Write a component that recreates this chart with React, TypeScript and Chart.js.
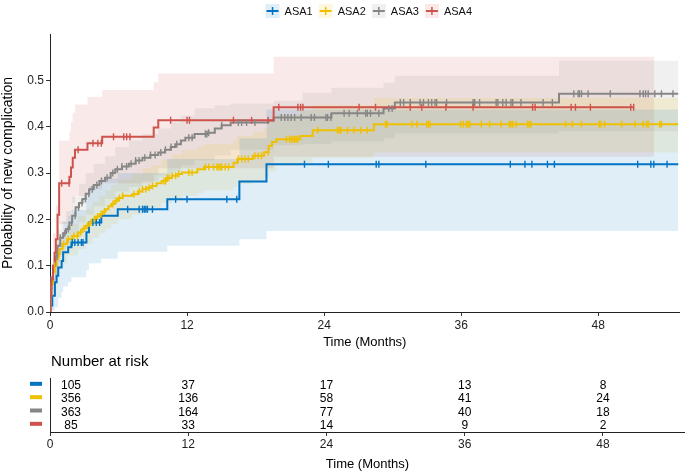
import React, { useEffect, useRef } from "react";
import { Chart, registerables } from "chart.js";

Chart.register(...registerables);

const FONT = "'Liberation Sans', Arial, Helvetica, sans-serif";

const GROUP_NAMES = ["ASA1", "ASA2", "ASA3", "ASA4"];
const GROUP_COLORS = ["#0073C2", "#EFC000", "#868686", "#CD534C"];
const BAND_ALPHA = 0.12;

const X_TICKS = [0, 12, 24, 36, 48];
const Y_TICKS = [0, 0.1, 0.2, 0.3, 0.4, 0.5];
const X_MAX = 55.12;
const Y_MAX = 0.6;

// ---- ASA1 ----
const ASA1_TIME = [0, 0.05, 0.2, 0.43, 0.58, 0.72, 1.02, 1.15, 1.59, 1.88, 3.19, 3.41, 4.49, 5.93, 10.27, 16.58, 18.95, 55.0];
const ASA1_EST = [0, 0.014, 0.035, 0.064, 0.078, 0.096, 0.11, 0.129, 0.14, 0.15, 0.172, 0.193, 0.208, 0.222, 0.2435, 0.2816, 0.319, 0.319];
const ASA1_BAND_TIME = [0, 0.05, 0.2, 0.43, 0.72, 1.02, 1.15, 1.59, 1.88, 3.19, 3.41, 4.49, 5.93, 10.27, 16.58, 18.95, 55.0];
const ASA1_LOWER = [0, 0, 0.003, 0.01, 0.03, 0.043, 0.055, 0.065, 0.075, 0.09, 0.105, 0.115, 0.13, 0.143, 0.157, 0.175, 0.175];
const ASA1_UPPER = [0, 0.04, 0.075, 0.12, 0.15, 0.172, 0.195, 0.208, 0.22, 0.248, 0.272, 0.288, 0.3, 0.33, 0.375, 0.437, 0.437];
const ASA1_CENSOR = [1.95, 2.17, 2.46, 2.75, 2.89, 3.76, 4.05, 4.34, 6.8, 7.81, 8.1, 8.25, 8.39, 8.53, 8.97, 11.0, 12.0, 15.48, 16.35, 22.28, 24.37, 28.56, 28.79, 32.9, 40.3, 41.58, 42.19, 43.55, 44.16, 51.45, 52.6, 52.86, 54.02];

// ---- ASA2 ----
const ASA2_TIME = [0, 0.03, 0.12, 0.26, 0.41, 0.56, 0.71, 0.85, 1.1, 1.5, 1.94, 2.49, 2.84, 3.13, 3.43, 3.73, 4.03, 4.32, 4.62, 4.87, 5.12, 5.36, 5.66, 5.96, 6.35, 7.2, 7.69, 8.09, 8.48, 8.88, 9.33, 9.77, 10.22, 10.67, 11.16, 11.56, 12.9, 13.49, 16.07, 16.41, 17.75, 18.74, 19.14, 19.44, 19.83, 21.91, 23.0, 28.35, 55.0];
const ASA2_EST = [0, 0.035, 0.06, 0.086, 0.1, 0.114, 0.125, 0.136, 0.147, 0.157, 0.164, 0.172, 0.18, 0.186, 0.193, 0.2, 0.206, 0.211, 0.217, 0.222, 0.228, 0.233, 0.24, 0.246, 0.251, 0.254, 0.26, 0.265, 0.268, 0.272, 0.278, 0.283, 0.289, 0.294, 0.298, 0.301, 0.308, 0.313, 0.322, 0.33, 0.337, 0.345, 0.359, 0.367, 0.373, 0.38, 0.392, 0.405, 0.405];
const ASA2_BAND_TIME = [0, 0.03, 0.26, 0.56, 0.85, 1.5, 2.49, 3.13, 3.73, 4.32, 4.87, 5.36, 5.96, 7.2, 8.09, 8.88, 9.77, 10.67, 11.56, 12.9, 13.49, 16.07, 16.41, 17.75, 18.74, 19.14, 19.83, 21.91, 23.0, 28.35, 55.0];
const ASA2_LOWER = [0, 0.015, 0.058, 0.083, 0.104, 0.122, 0.136, 0.148, 0.16, 0.17, 0.18, 0.19, 0.2, 0.21, 0.218, 0.225, 0.235, 0.245, 0.251, 0.257, 0.262, 0.27, 0.276, 0.283, 0.29, 0.303, 0.316, 0.322, 0.333, 0.344, 0.344];
const ASA2_UPPER = [0, 0.055, 0.117, 0.145, 0.168, 0.19, 0.207, 0.222, 0.238, 0.25, 0.262, 0.274, 0.286, 0.297, 0.31, 0.317, 0.329, 0.34, 0.35, 0.357, 0.362, 0.372, 0.38, 0.389, 0.397, 0.412, 0.426, 0.434, 0.447, 0.462, 0.462];
const ASA2_CENSOR = [0.41, 0.8, 1.2, 1.6, 2.09, 2.39, 2.69, 2.98, 3.28, 3.58, 3.88, 4.17, 4.47, 4.77, 5.5, 5.79, 6.08, 6.36, 7.35, 7.81, 8.1, 8.39, 8.68, 8.97, 9.98, 10.13, 10.27, 10.42, 10.7, 11.0, 11.28, 12.15, 12.44, 13.6, 13.89, 14.32, 14.61, 14.76, 14.9, 15.04, 15.34, 15.63, 16.49, 16.78, 17.07, 17.36, 17.94, 18.23, 18.52, 19.1, 20.69, 20.98, 21.12, 21.27, 21.42, 21.55, 21.7, 23.44, 25.17, 25.32, 25.46, 26.04, 26.62, 27.2, 27.78, 29.37, 29.51, 31.68, 32.12, 32.99, 33.13, 33.27, 35.94, 36.17, 36.46, 36.6, 36.75, 37.76, 38.48, 39.5, 40.22, 40.36, 40.51, 40.8, 41.81, 41.95, 42.1, 45.14, 45.72, 46.53, 48.09, 48.24, 48.55, 50.06, 51.22, 51.94, 52.23, 52.37, 53.38, 53.53];

// ---- ASA3 ----
const ASA3_TIME = [0, 0.03, 0.12, 0.26, 0.46, 0.66, 0.9, 1.15, 1.4, 1.7, 1.94, 2.24, 2.54, 2.84, 3.13, 3.43, 3.83, 4.32, 4.82, 5.31, 5.71, 6.3, 6.9, 7.49, 8.09, 8.78, 9.48, 10.07, 10.57, 10.96, 11.46, 11.85, 12.65, 13.84, 14.43, 15.02, 15.82, 19.09, 19.58, 24.64, 29.2, 30.19, 44.56, 55.0];
const ASA3_EST = [0, 0.05, 0.075, 0.1, 0.12, 0.143, 0.16, 0.17, 0.179, 0.193, 0.208, 0.226, 0.235, 0.244, 0.255, 0.265, 0.274, 0.283, 0.29, 0.3, 0.308, 0.314, 0.32, 0.327, 0.333, 0.339, 0.344, 0.35, 0.356, 0.362, 0.37, 0.376, 0.384, 0.387, 0.396, 0.403, 0.409, 0.413, 0.42, 0.429, 0.439, 0.452, 0.471, 0.471];
const ASA3_BAND_TIME = [0, 0.03, 0.26, 0.66, 0.9, 1.4, 1.94, 2.54, 3.13, 3.83, 4.82, 5.71, 6.9, 8.09, 9.48, 10.57, 11.46, 12.65, 14.43, 15.82, 19.58, 22.11, 24.64, 29.2, 30.19, 44.56, 55.0];
const ASA3_LOWER = [0, 0.03, 0.07, 0.108, 0.124, 0.14, 0.167, 0.193, 0.21, 0.228, 0.244, 0.26, 0.27, 0.282, 0.292, 0.303, 0.316, 0.327, 0.338, 0.35, 0.36, 0.362, 0.368, 0.375, 0.385, 0.39, 0.39];
const ASA3_UPPER = [0, 0.07, 0.13, 0.178, 0.196, 0.218, 0.249, 0.277, 0.3, 0.32, 0.336, 0.356, 0.37, 0.384, 0.396, 0.409, 0.424, 0.44, 0.446, 0.45, 0.456, 0.473, 0.484, 0.495, 0.51, 0.542, 0.542];
const ASA3_CENSOR = [0.6, 0.9, 1.3, 1.6, 1.9, 2.2, 2.5, 2.8, 3.1, 3.4, 3.7, 4.1, 4.5, 5.0, 5.5, 5.9, 6.3, 6.7, 7.1, 7.5, 7.8, 8.3, 8.8, 9.2, 9.7, 10.1, 10.6, 11.1, 12.15, 12.44, 13.6, 13.74, 13.89, 15.04, 16.49, 16.78, 17.21, 17.94, 20.25, 20.55, 20.83, 21.12, 21.42, 21.99, 22.86, 23.15, 24.16, 24.3, 24.59, 25.75, 26.19, 26.91, 27.63, 27.78, 28.06, 28.79, 29.66, 29.95, 30.67, 30.96, 31.54, 32.4, 32.7, 33.13, 33.42, 33.71, 33.85, 34.72, 37.04, 37.18, 37.61, 39.06, 39.21, 39.64, 39.93, 40.36, 40.51, 41.23, 43.17, 43.98, 45.86, 46.24, 46.35, 46.53, 47.11, 49.05, 51.65, 51.94, 52.14, 52.37, 52.95, 53.53, 54.54];

// ---- ASA4 ----
const ASA4_TIME = [0, 0.03, 0.12, 0.26, 0.41, 0.51, 0.66, 0.8, 1.7, 1.84, 1.99, 2.19, 3.28, 4.57, 9.08, 9.48, 19.58, 51.1];
const ASA4_EST = [0, 0.035, 0.07, 0.1, 0.128, 0.157, 0.21, 0.278, 0.292, 0.312, 0.333, 0.35, 0.364, 0.378, 0.398, 0.414, 0.442, 0.442];
const ASA4_BAND_TIME = [0, 0.03, 0.26, 0.51, 0.8, 1.7, 1.84, 1.99, 2.19, 3.28, 4.57, 9.08, 9.48, 19.58, 52.9];
const ASA4_LOWER = [0, 0.005, 0.04, 0.08, 0.19, 0.2, 0.218, 0.235, 0.25, 0.265, 0.278, 0.296, 0.31, 0.335, 0.335];
const ASA4_UPPER = [0, 0.08, 0.17, 0.23, 0.37, 0.39, 0.41, 0.43, 0.448, 0.464, 0.479, 0.496, 0.515, 0.551, 0.551];
const ASA4_CENSOR = [1.02, 1.67, 2.46, 3.76, 4.19, 4.49, 5.56, 6.45, 6.71, 7.0, 10.56, 12.0, 12.21, 16.06, 17.65, 19.1, 20.03, 21.7, 21.94, 22.14, 27.06, 28.5, 31.54, 32.55, 34.66, 37.04, 42.25, 42.47, 45.63, 46.0, 47.31, 50.84, 51.1];

// ---- Risk table ----
const RISK_TIMES = [0, 12, 24, 36, 48];
const RISK_ASA1 = [105, 37, 17, 13, 8];
const RISK_ASA2 = [356, 136, 58, 41, 24];
const RISK_ASA3 = [363, 164, 77, 40, 18];
const RISK_ASA4 = [85, 33, 14, 9, 2];
const RISK_ROW_POS = [4, 3, 2, 1];

const GROUPS = [
  { time: ASA1_TIME, est: ASA1_EST, bandTime: ASA1_BAND_TIME, lower: ASA1_LOWER, upper: ASA1_UPPER, censor: ASA1_CENSOR, risk: RISK_ASA1 },
  { time: ASA2_TIME, est: ASA2_EST, bandTime: ASA2_BAND_TIME, lower: ASA2_LOWER, upper: ASA2_UPPER, censor: ASA2_CENSOR, risk: RISK_ASA2 },
  { time: ASA3_TIME, est: ASA3_EST, bandTime: ASA3_BAND_TIME, lower: ASA3_LOWER, upper: ASA3_UPPER, censor: ASA3_CENSOR, risk: RISK_ASA3 },
  { time: ASA4_TIME, est: ASA4_EST, bandTime: ASA4_BAND_TIME, lower: ASA4_LOWER, upper: ASA4_UPPER, censor: ASA4_CENSOR, risk: RISK_ASA4 },
];

function rgba(hex: string, a: number) {
  const n = parseInt(hex.slice(1), 16);
  return `rgba(${(n >> 16) & 255},${(n >> 8) & 255},${n & 255},${a})`;
}

function pts(xs: number[], ys: number[]) {
  const n = Math.min(xs.length, ys.length);
  const out: { x: number; y: number }[] = [];
  for (let i = 0; i < n; i++) out.push({ x: xs[i], y: ys[i] });
  return out;
}

function stepValue(times: number[], est: number[], t: number) {
  let v = est[0];
  for (let i = 0; i < times.length; i++) if (times[i] <= t) v = est[i];
  return v;
}

const legendPlugin = {
  id: "kmLegend",
  afterDraw(chart: any) {
    const { ctx, chartArea } = chart;
    ctx.save();
    ctx.font = `11px ${FONT}`;
    const box = 14;
    const gapText = 5;
    const gapItem = 6;
    const widths = GROUP_NAMES.map((n) => ctx.measureText(n).width);
    let total = 0;
    widths.forEach((w) => (total += box + gapText + w));
    total += gapItem * (GROUP_NAMES.length - 1);
    let x = (chartArea.left + chartArea.right) / 2 + 4 - total / 2;
    const cy = 11;
    GROUP_NAMES.forEach((name, i) => {
      const col = GROUP_COLORS[i];
      ctx.fillStyle = rgba(col, BAND_ALPHA);
      ctx.fillRect(x, cy - box / 2, box, box);
      ctx.strokeStyle = col;
      ctx.lineWidth = 2;
      ctx.beginPath();
      ctx.moveTo(x + 1, cy);
      ctx.lineTo(x + box - 1, cy);
      ctx.stroke();
      ctx.lineWidth = 1.5;
      ctx.beginPath();
      ctx.moveTo(x + box / 2, cy - 4);
      ctx.lineTo(x + box / 2, cy + 4);
      ctx.stroke();
      ctx.fillStyle = "#111";
      ctx.textAlign = "left";
      ctx.textBaseline = "middle";
      ctx.fillText(name, x + box + gapText, cy + 0.5);
      x += box + gapText + widths[i] + gapItem;
    });
    ctx.restore();
  },
};

const riskPlugin = {
  id: "riskText",
  afterDatasetsDraw(chart: any) {
    const { ctx, chartArea } = chart;
    ctx.save();
    ctx.fillStyle = "#000";
    ctx.font = `15px ${FONT}`;
    ctx.textAlign = "left";
    ctx.textBaseline = "middle";
    ctx.fillText("Number at risk", chartArea.left + 1, 10);
    ctx.font = `12px ${FONT}`;
    ctx.textAlign = "center";
    GROUPS.forEach((g, i) => {
      const meta = chart.getDatasetMeta(i);
      meta.data.forEach((el: any, j: number) => {
        const shift = RISK_TIMES[j] === 0 ? 21 : 0;
        ctx.fillStyle = "#000";
        ctx.fillText(String(g.risk[j]), el.x + shift, el.y + 0.5);
      });
      const y0 = meta.data[0].y;
      ctx.fillStyle = GROUP_COLORS[i];
      ctx.fillRect(chartArea.left - 20, y0 - 3.5, 12, 4);
    });
    ctx.restore();
  },
};

function axisX(titleBottom: number, height: number, tickPad: number) {
  return {
    type: "linear" as const,
    min: 0,
    max: X_MAX,
    afterBuildTicks: (s: any) => {
      s.ticks = X_TICKS.map((v) => ({ value: v }));
    },
    afterFit: (s: any) => {
      s.height = height;
    },
    grid: { display: true, drawOnChartArea: false, drawTicks: true, tickLength: 4, color: "#333", lineWidth: 1 },
    border: { display: true, color: "#222", width: 1 },
    ticks: { color: "#222", font: { family: FONT, size: 12 }, padding: tickPad, maxRotation: 0, autoSkip: false },
    title: {
      display: true,
      text: "Time (Months)",
      color: "#000",
      font: { family: FONT, size: 13 },
      padding: { top: 0, bottom: titleBottom },
    },
  };
}

export default function App() {
  const mainRef = useRef<HTMLCanvasElement>(null);
  const riskRef = useRef<HTMLCanvasElement>(null);

  useEffect(() => {
    const datasets: any[] = [];
    GROUPS.forEach((g, i) => {
      const col = GROUP_COLORS[i];
      const lowerIdx = datasets.length;
      datasets.push({
        label: GROUP_NAMES[i] + " lower",
        data: pts(g.bandTime, g.lower),
        stepped: true,
        borderWidth: 0,
        borderColor: "rgba(0,0,0,0)",
        pointRadius: 0,
        fill: false,
        order: 3,
      });
      datasets.push({
        label: GROUP_NAMES[i] + " upper",
        data: pts(g.bandTime, g.upper),
        stepped: true,
        borderWidth: 0,
        borderColor: "rgba(0,0,0,0)",
        pointRadius: 0,
        fill: { target: lowerIdx },
        backgroundColor: rgba(col, BAND_ALPHA),
        order: 3,
      });
    });
    GROUPS.forEach((g, i) => {
      datasets.push({
        label: GROUP_NAMES[i],
        data: pts(g.time, g.est),
        stepped: true,
        borderColor: GROUP_COLORS[i],
        borderWidth: 2,
        pointRadius: 0,
        fill: false,
        order: 2 + (3 - i) * 0.1,
      });
    });
    GROUPS.forEach((g, i) => {
      datasets.push({
        label: GROUP_NAMES[i] + " censored",
        data: g.censor.map((t) => ({ x: t, y: stepValue(g.time, g.est, t) })),
        showLine: false,
        pointStyle: "line",
        pointRotation: 90,
        pointRadius: 3.5,
        pointBorderWidth: 1.4,
        pointBorderColor: GROUP_COLORS[i],
        pointBackgroundColor: GROUP_COLORS[i],
        borderColor: GROUP_COLORS[i],
        fill: false,
        order: 1 + (3 - i) * 0.1,
      });
    });

    const main = new Chart(mainRef.current as HTMLCanvasElement, {
      type: "line",
      data: { datasets },
      options: {
        animation: false,
        responsive: false,
        devicePixelRatio: 1,
        events: [],
        layout: { padding: { top: 34, right: 0, bottom: 0, left: 0 } },
        plugins: { legend: { display: false }, tooltip: { enabled: false }, title: { display: false } },
        scales: {
          x: axisX(2.2, 40, 2) as any,
          y: {
            type: "linear",
            min: 0,
            max: Y_MAX,
            afterBuildTicks: (s: any) => {
              s.ticks = Y_TICKS.map((v) => ({ value: v }));
            },
            afterFit: (s: any) => {
              s.width = 50;
            },
            grid: { display: true, drawOnChartArea: false, drawTicks: true, tickLength: 4, color: "#333", lineWidth: 1 },
            border: { display: true, color: "#222", width: 1 },
            ticks: {
              color: "#222",
              font: { family: FONT, size: 12 },
              padding: 2,
              callback: (v: any) => Number(v).toFixed(1),
            },
            title: {
              display: true,
              text: "Probability of new complication",
              color: "#000",
              font: { family: FONT, size: 14 },
              padding: 0,
            },
          },
        },
      },
      plugins: [legendPlugin],
    });

    const riskSets = GROUPS.map((g, i) => ({
      label: GROUP_NAMES[i],
      data: RISK_TIMES.map((t) => ({ x: t, y: RISK_ROW_POS[i] })),
      pointRadius: 0,
      showLine: false,
    }));

    const risk = new Chart(riskRef.current as HTMLCanvasElement, {
      type: "scatter",
      data: { datasets: riskSets },
      options: {
        animation: false,
        responsive: false,
        devicePixelRatio: 1,
        events: [],
        layout: { padding: { top: 26, right: 0, bottom: 0, left: 0 } },
        plugins: { legend: { display: false }, tooltip: { enabled: false }, title: { display: false } },
        scales: {
          x: axisX(1.2, 41, 1) as any,
          y: {
            type: "linear",
            min: 0.5,
            max: 4.55,
            afterFit: (s: any) => {
              s.width = 50;
            },
            grid: { display: false },
            border: { display: true, color: "#222", width: 1 },
            ticks: { display: false },
          },
        },
      },
      plugins: [riskPlugin],
    });

    return () => {
      main.destroy();
      risk.destroy();
    };
  }, []);

  return (
    <div style={{ position: "absolute", left: 0, top: 0, width: 685, height: 473, background: "#fff" }}>
      <canvas ref={mainRef} width={685} height={352} style={{ display: "block", width: 685, height: 352 }} />
      <canvas ref={riskRef} width={685} height={121} style={{ display: "block", width: 685, height: 121 }} />
    </div>
  );
}
